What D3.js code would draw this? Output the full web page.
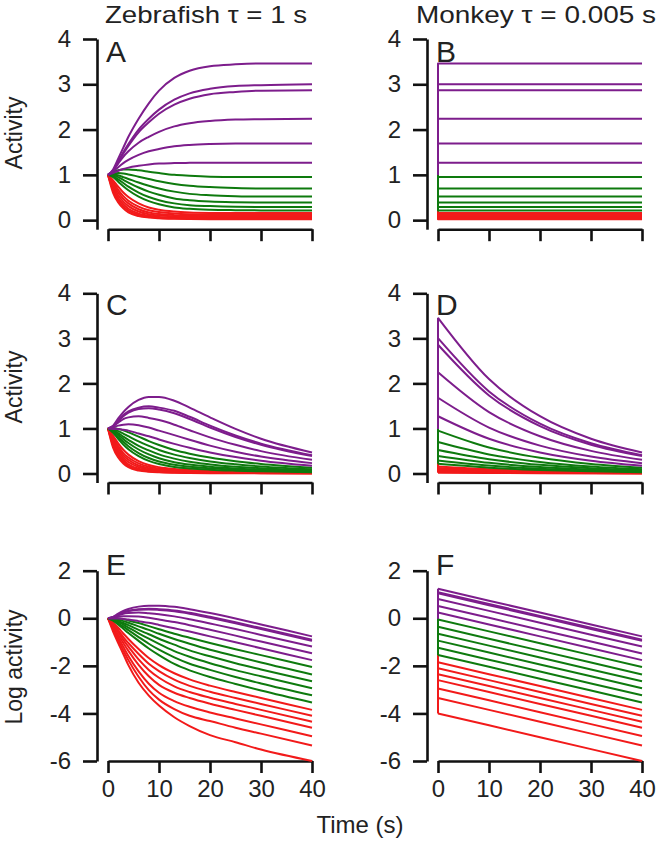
<!DOCTYPE html>
<html><head><meta charset="utf-8">
<script src="https://cdn.jsdelivr.net/npm/d3@7"></script>
<style>
body{margin:0;background:#fff}
svg{display:block}
text{font-family:"Liberation Sans",Arial,Helvetica,sans-serif;fill:#222}
</style>
</head><body>
<svg id="chart" width="660" height="853"></svg>
<script>
// ---------------- DATA ----------------
const xTicks = [0, 10, 20, 30, 40];
const yTicksActivity = [0, 1, 2, 3, 4];
const yTicksLog = [-6, -4, -2, 0, 2];
const columnTitles = ["Zebrafish \u03c4 = 1 s", "Monkey \u03c4 = 0.005 s"];
const panelLetters = ["A", "B", "C", "D", "E", "F"];
const yLabels = ["Activity", "Activity", "Log activity"];
const xLabel = "Time (s)";

// group of each of the 19 cells (top to bottom)
const cellGroup = ["purple","purple","purple","purple","purple","purple",
  "green","green","green","green","green","green",
  "red","red","red","red","red","red","red"];
const groupColor = {purple: "#7d1d8c", green: "#0e7a0e", red: "#f21a1a"};

// Zebrafish, time samples (s)
const timesZebra = [0, 1, 2, 3, 4, 6, 8, 10, 13, 16, 20, 25, 30, 40];
// Panel A: zebrafish activity (no leak)
const zebraActivity = [
  [1, 1.12, 1.36, 1.60, 1.84, 2.24, 2.58, 2.86, 3.14, 3.30, 3.40, 3.44, 3.46, 3.46],
  [1, 1.10, 1.30, 1.50, 1.68, 2.00, 2.24, 2.44, 2.66, 2.80, 2.90, 2.96, 2.98, 3.00],
  [1, 1.09, 1.28, 1.47, 1.64, 1.94, 2.16, 2.35, 2.55, 2.68, 2.78, 2.83, 2.86, 2.87],
  [1, 1.10, 1.25, 1.40, 1.52, 1.71, 1.84, 1.95, 2.07, 2.14, 2.19, 2.22, 2.23, 2.24],
  [1, 1.07, 1.17, 1.26, 1.33, 1.44, 1.52, 1.57, 1.63, 1.66, 1.68, 1.69, 1.69, 1.69],
  [1, 1.04, 1.09, 1.13, 1.16, 1.20, 1.23, 1.25, 1.26, 1.265, 1.27, 1.27, 1.27, 1.27],
  [1, 1.06, 1.10, 1.12, 1.12, 1.10, 1.07, 1.04, 1.00, 0.98, 0.96, 0.95, 0.95, 0.95],
  [1, 1.03, 1.04, 1.03, 1.01, 0.96, 0.91, 0.86, 0.80, 0.76, 0.73, 0.71, 0.70, 0.70],
  [1, 1.01, 0.99, 0.95, 0.91, 0.83, 0.76, 0.70, 0.63, 0.58, 0.55, 0.53, 0.52, 0.52],
  [1, 0.99, 0.95, 0.89, 0.83, 0.72, 0.63, 0.56, 0.48, 0.44, 0.41, 0.395, 0.39, 0.39],
  [1, 0.97, 0.90, 0.82, 0.74, 0.61, 0.51, 0.44, 0.37, 0.33, 0.31, 0.295, 0.29, 0.29],
  [1, 0.95, 0.85, 0.75, 0.66, 0.52, 0.42, 0.35, 0.28, 0.25, 0.23, 0.22, 0.215, 0.215],
  [1, 0.88, 0.74, 0.61, 0.51, 0.37, 0.28, 0.23, 0.19, 0.17, 0.16, 0.157, 0.157, 0.157],
  [1, 0.84, 0.67, 0.53, 0.43, 0.30, 0.22, 0.18, 0.145, 0.13, 0.124, 0.122, 0.122, 0.122],
  [1, 0.80, 0.61, 0.47, 0.37, 0.24, 0.17, 0.135, 0.11, 0.10, 0.096, 0.095, 0.095, 0.095],
  [1, 0.76, 0.55, 0.41, 0.31, 0.19, 0.13, 0.10, 0.084, 0.078, 0.075, 0.074, 0.074, 0.074],
  [1, 0.71, 0.49, 0.35, 0.25, 0.145, 0.095, 0.072, 0.059, 0.054, 0.052, 0.052, 0.052, 0.052],
  [1, 0.66, 0.44, 0.30, 0.21, 0.115, 0.073, 0.054, 0.042, 0.037, 0.036, 0.035, 0.035, 0.035],
  [1, 0.60, 0.39, 0.26, 0.17, 0.09, 0.058, 0.042, 0.030, 0.024, 0.020, 0.019, 0.018, 0.018]
];
// Panels C and E: zebrafish with leak, natural-log activity (panel C shows the same series on a linear axis)
const zebraLogLeaky = [
  [0, 0.06, 0.20, 0.31, 0.39, 0.49, 0.53, 0.53, 0.48, 0.38, 0.22, -0.01, -0.26, -0.76],
  [0, 0.05, 0.16, 0.26, 0.32, 0.38, 0.40, 0.38, 0.33, 0.23, 0.06, -0.17, -0.41, -0.90],
  [0, 0.04, 0.15, 0.24, 0.30, 0.36, 0.37, 0.35, 0.29, 0.19, 0.02, -0.21, -0.45, -0.95],
  [0, 0.05, 0.12, 0.19, 0.22, 0.24, 0.21, 0.17, 0.08, -0.04, -0.22, -0.45, -0.70, -1.19],
  [0, 0.02, 0.06, 0.08, 0.09, 0.07, 0.02, -0.05, -0.16, -0.29, -0.48, -0.73, -0.98, -1.47],
  [0, -0.01, -0.01, -0.03, -0.05, -0.12, -0.19, -0.28, -0.42, -0.56, -0.76, -1.01, -1.26, -1.76],
  [0, 0.01, -0.01, -0.04, -0.09, -0.20, -0.33, -0.46, -0.65, -0.82, -1.04, -1.30, -1.55, -2.05],
  [0, -0.02, -0.06, -0.12, -0.19, -0.34, -0.49, -0.65, -0.87, -1.07, -1.32, -1.59, -1.86, -2.36],
  [0, -0.04, -0.11, -0.20, -0.29, -0.49, -0.67, -0.86, -1.11, -1.35, -1.60, -1.89, -2.15, -2.65],
  [0, -0.06, -0.15, -0.27, -0.39, -0.63, -0.86, -1.08, -1.38, -1.62, -1.89, -2.18, -2.44, -2.94],
  [0, -0.08, -0.21, -0.35, -0.50, -0.79, -1.07, -1.32, -1.64, -1.91, -2.17, -2.47, -2.74, -3.24],
  [0, -0.10, -0.26, -0.44, -0.62, -0.95, -1.27, -1.55, -1.92, -2.19, -2.47, -2.76, -3.04, -3.54],
  [0, -0.18, -0.40, -0.64, -0.87, -1.29, -1.67, -1.97, -2.31, -2.57, -2.83, -3.10, -3.35, -3.85],
  [0, -0.22, -0.50, -0.79, -1.04, -1.50, -1.91, -2.22, -2.58, -2.84, -3.09, -3.35, -3.60, -4.10],
  [0, -0.27, -0.59, -0.91, -1.19, -1.73, -2.17, -2.50, -2.86, -3.10, -3.34, -3.60, -3.85, -4.35],
  [0, -0.32, -0.70, -1.04, -1.37, -1.96, -2.44, -2.80, -3.13, -3.35, -3.59, -3.85, -4.10, -4.60],
  [0, -0.39, -0.81, -1.20, -1.59, -2.23, -2.75, -3.13, -3.48, -3.72, -3.96, -4.21, -4.46, -4.96],
  [0, -0.47, -0.92, -1.35, -1.76, -2.46, -3.02, -3.42, -3.82, -4.10, -4.32, -4.60, -4.85, -5.35],
  [0, -0.56, -1.04, -1.50, -1.97, -2.71, -3.25, -3.67, -4.16, -4.53, -4.91, -5.21, -5.52, -6.00]
];

// Monkey: initial activity before the step
const monkeyInitial = 1;
// Panel B: monkey activity levels (no leak, constant after the jump)
const monkeyLevels = [3.46, 3.00, 2.87, 2.24, 1.69, 1.27, 0.95, 0.70, 0.52, 0.39, 0.29, 0.215,
  0.157, 0.122, 0.095, 0.074, 0.052, 0.035, 0.018];
// Panels D and F: monkey with leak, natural-log activity
const timesMonkey = [0, 10, 20, 30, 40];
const monkeyLogLeaky = [
  [1.24, 0.74, 0.24, -0.26, -0.76],
  [1.10, 0.60, 0.10, -0.40, -0.90],
  [1.05, 0.55, 0.05, -0.45, -0.95],
  [0.81, 0.31, -0.19, -0.69, -1.19],
  [0.52, 0.02, -0.48, -0.98, -1.48],
  [0.24, -0.26, -0.76, -1.26, -1.76],
  [-0.05, -0.55, -1.05, -1.55, -2.05],
  [-0.36, -0.86, -1.36, -1.86, -2.36],
  [-0.65, -1.15, -1.65, -2.15, -2.65],
  [-0.94, -1.44, -1.94, -2.44, -2.94],
  [-1.24, -1.74, -2.24, -2.74, -3.24],
  [-1.54, -2.04, -2.54, -3.04, -3.54],
  [-1.85, -2.35, -2.85, -3.35, -3.85],
  [-2.10, -2.60, -3.10, -3.60, -4.10],
  [-2.35, -2.85, -3.35, -3.85, -4.35],
  [-2.60, -3.10, -3.60, -4.10, -4.60],
  [-2.95, -3.45, -3.95, -4.45, -4.95],
  [-3.35, -3.85, -4.35, -4.85, -5.35],
  [-4.00, -4.50, -5.00, -5.50, -6.00]
];

// ---------------- LAYOUT ----------------
const svg = d3.select("#chart");
const cols = [
  {axisX: 97, x0: 108, x1: 312, titleX: 206, titleLen: 202},
  {axisX: 427, x0: 438, x1: 642, titleX: 536, titleLen: 240}
];
const rows = [
  {top: 39, bottom: 229.2, domain: [-0.2, 4], ticks: yTicksActivity, letterY: 61.5, labelY: 133, xLabels: false},
  {top: 293.3, bottom: 482.5, domain: [-0.2, 4], ticks: yTicksActivity, letterY: 315, labelY: 387, xLabels: false},
  {top: 570.7, bottom: 761, domain: [-6, 2], ticks: yTicksLog, letterY: 575, labelY: 667, xLabels: true}
];
const AXIS_W = 2.6, LINE_W = 2;
const fmtTick = d => String(d);   // plain hyphen-minus like the reference

function styleAxis(g) {
  g.selectAll("path.domain").attr("stroke", "#111").attr("stroke-width", AXIS_W);
  g.selectAll(".tick line").attr("stroke", "#111").attr("stroke-width", AXIS_W);
  g.selectAll(".tick text").style("font-size", "24px").attr("fill", "#222")
    .style("font-family", '"Liberation Sans",Arial,Helvetica,sans-serif');
}

const panels = [];
rows.forEach((r, ri) => {
  cols.forEach((c, ci) => {
    const x = d3.scaleLinear().domain([0, 40]).range([c.x0, c.x1]);
    const y = d3.scaleLinear().domain(r.domain).range([r.bottom, r.top]);
    const g = svg.append("g");
    const ya = g.append("g").attr("transform", `translate(${c.axisX},0)`)
      .call(d3.axisLeft(y).tickValues(r.ticks).tickSize(14).tickSizeOuter(0).tickPadding(12)
        .tickFormat(fmtTick));
    styleAxis(ya);
    const xa = g.append("g").attr("transform", `translate(0,${r.bottom})`)
      .call(d3.axisBottom(x).tickValues(xTicks).tickSize(12).tickSizeOuter(0).tickPadding(7)
        .tickFormat(r.xLabels ? fmtTick : () => ""));
    styleAxis(xa);
    g.append("text").attr("x", c.x0 - 2).attr("y", r.letterY)
      .style("font-size", "30px").text(panelLetters[ri * 2 + ci]);
    panels.push({g, x, y, ri, ci});
  });
  svg.append("text").attr("transform", `translate(22,${r.labelY}) rotate(-90)`)
    .attr("text-anchor", "middle").style("font-size", "23px").text(yLabels[ri]);
});

cols.forEach((c, ci) => {
  svg.append("text").attr("x", c.titleX).attr("y", 23).attr("text-anchor", "middle")
    .attr("textLength", c.titleLen).attr("lengthAdjust", "spacingAndGlyphs")
    .style("font-size", "24px").text(columnTitles[ci]);
});
svg.append("text").attr("x", 360).attr("y", 833).attr("text-anchor", "middle")
  .style("font-size", "24px").text(xLabel);

// ---------------- CURVES ----------------
function drawPath(p, pts, color, curve) {
  const line = d3.line().x(d => p.x(d[0])).y(d => p.y(d[1])).curve(curve);
  p.g.append("path").attr("d", line(pts)).attr("fill", "none")
    .attr("stroke", color).attr("stroke-width", LINE_W).attr("stroke-linejoin", "round");
}
const order = d3.range(cellGroup.length).reverse(); // red drawn first, purple last
const [pA, pB, pC, pD, pE, pF] = panels;

order.forEach(i => {
  const col = groupColor[cellGroup[i]];
  drawPath(pA, timesZebra.map((t, k) => [t, zebraActivity[i][k]]), col, d3.curveMonotoneX);
  drawPath(pC, timesZebra.map((t, k) => [t, Math.exp(zebraLogLeaky[i][k])]), col, d3.curveMonotoneX);
  drawPath(pE, timesZebra.map((t, k) => [t, zebraLogLeaky[i][k]]), col, d3.curveMonotoneX);
  drawPath(pB, [[0, monkeyInitial], [0, monkeyLevels[i]], [40, monkeyLevels[i]]], col, d3.curveLinear);
  drawPath(pD, [[0, monkeyInitial], [0, Math.exp(monkeyLogLeaky[i][0])]], col, d3.curveLinear);
  drawPath(pD, timesMonkey.map((t, k) => [t, Math.exp(monkeyLogLeaky[i][k])]), col, d3.curveMonotoneX);
  drawPath(pF, [[0, Math.log(monkeyInitial)], [0, monkeyLogLeaky[i][0]]], col, d3.curveLinear);
  drawPath(pF, timesMonkey.map((t, k) => [t, monkeyLogLeaky[i][k]]), col, d3.curveLinear);
});
</script>
</body></html>
